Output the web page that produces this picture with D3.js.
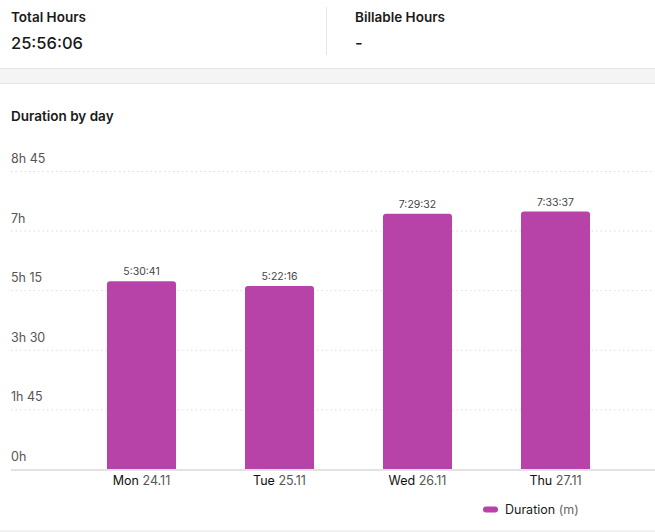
<!DOCTYPE html>
<html>
<head>
<meta charset="utf-8">
<script src="https://cdn.jsdelivr.net/npm/d3@7"></script>
<style>
  body { margin: 0; background: #fff; font-family: Inter, "Noto Sans", sans-serif; }
</style>
</head>
<body>
<svg id="chart" width="655" height="532"></svg>
<script>
// chart data
const days = ["Mon", "Tue", "Wed", "Thu"];
const dates = ["24.11", "25.11", "26.11", "27.11"];
const durations = ["5:30:41", "5:22:16", "7:29:32", "7:33:37"];
const tickMinutes = [0, 105, 210, 315, 420, 525];
const tickLabels = ["0h", "1h 45", "3h 30", "5h 15", "7h", "8h 45"];

// h:mm:ss -> minutes
function toMinutes(s) {
  const p = s.split(":").map(Number);
  return p[0] * 60 + p[1] + p[2] / 60;
}

const data = days.map((d, i) => ({ day: d, date: dates[i], label: durations[i], value: toMinutes(durations[i]) }));

const svg = d3.select("#chart");
const W = +svg.attr("width");

// SUMMARY HEADER
svg.append("text").attr("x", 11).attr("y", 22)
  .style("font-size", "13.5px").style("font-weight", 600).attr("fill", "#1a1a1a")
  .text("Total Hours");
svg.append("text").attr("x", 11).attr("y", 49)
  .style("font-size", "16.5px").style("font-weight", 500).attr("fill", "#1a1a1a")
  .text("25:56:06");
svg.append("line").attr("x1", 326.5).attr("x2", 326.5).attr("y1", 7).attr("y2", 55)
  .attr("stroke", "#e6e6e6");
svg.append("text").attr("x", 355).attr("y", 22)
  .style("font-size", "13.5px").style("font-weight", 600).attr("fill", "#1a1a1a")
  .text("Billable Hours");
svg.append("text").attr("x", 355).attr("y", 49)
  .style("font-size", "16.5px").style("font-weight", 500).attr("fill", "#1a1a1a")
  .text("-");

// gray separator band
svg.append("rect").attr("x", 0).attr("y", 68).attr("width", W).attr("height", 15)
  .attr("fill", "#f4f4f4");
svg.append("line").attr("x1", 0).attr("x2", W).attr("y1", 68.5).attr("y2", 68.5).attr("stroke", "#e4e4e4");
svg.append("line").attr("x1", 0).attr("x2", W).attr("y1", 83.5).attr("y2", 83.5).attr("stroke", "#e4e4e4");

svg.append("text").attr("x", 11).attr("y", 121)
  .style("font-size", "13.5px").style("font-weight", 600).attr("fill", "#1a1a1a")
  .text("Duration by day");

// SCALES
const y = d3.scaleLinear().domain([0, 525]).range([469, 171]);
const x = d3.scaleBand().domain(days).range([72.5, 624.5])
  .paddingInner(0.5).paddingOuter(0.25);

// gridlines + tick labels
const grid = svg.append("g");
grid.selectAll("line")
  .data(tickMinutes.filter(t => t > 0))
  .enter().append("line")
  .attr("x1", 11).attr("x2", W)
  .attr("y1", d => y(d) + 0.5).attr("y2", d => y(d) + 0.5)
  .attr("stroke", "#dcdcdc").attr("stroke-dasharray", "1.5,3");
grid.selectAll("text")
  .data(tickMinutes)
  .enter().append("text")
  .attr("x", 11).attr("y", d => y(d) - 8)
  .style("font-size", "12.5px").attr("fill", "#555")
  .text((d, i) => tickLabels[i]);

// BARS with rounded top corners
const r = 3;
svg.append("g").selectAll("path")
  .data(data)
  .enter().append("path")
  .attr("fill", "#b843a8")
  .attr("d", d => {
    const x0 = x(d.day), w = x.bandwidth(), y0 = y(d.value), y1 = y(0);
    return `M${x0},${y1}V${y0 + r}Q${x0},${y0} ${x0 + r},${y0}H${x0 + w - r}Q${x0 + w},${y0} ${x0 + w},${y0 + r}V${y1}Z`;
  });

// value labels
svg.append("g").selectAll("text")
  .data(data)
  .enter().append("text")
  .attr("x", d => x(d.day) + x.bandwidth() / 2)
  .attr("y", d => y(d.value) - 6)
  .attr("text-anchor", "middle")
  .style("font-size", "10.5px").attr("fill", "#444")
  .text(d => d.label);

// x axis baseline
svg.append("line").attr("x1", 11).attr("x2", W).attr("y1", 470).attr("y2", 470)
  .attr("stroke", "#e2e2e2").attr("stroke-width", 2);

// x labels: day dark, date gray
const xl = svg.append("g").selectAll("text")
  .data(data)
  .enter().append("text")
  .attr("x", d => x(d.day) + x.bandwidth() / 2)
  .attr("y", 485)
  .attr("text-anchor", "middle")
  .style("font-size", "12.5px");
xl.append("tspan").attr("fill", "#111").text(d => d.day + " ");
xl.append("tspan").attr("fill", "#555").text(d => d.date);

// LEGEND
svg.append("rect").attr("x", 483).attr("y", 506.5).attr("width", 15).attr("height", 6)
  .attr("rx", 3).attr("fill", "#b843a8");
const lg = svg.append("text").attr("x", 505).attr("y", 514).style("font-size", "12.5px");
lg.append("tspan").attr("fill", "#1a1a1a").text("Duration ");
lg.append("tspan").attr("fill", "#666").text("(m)");

// bottom border
svg.append("line").attr("x1", 0).attr("x2", W).attr("y1", 531).attr("y2", 531).attr("stroke", "#e4e4e4");
</script>
</body>
</html>
